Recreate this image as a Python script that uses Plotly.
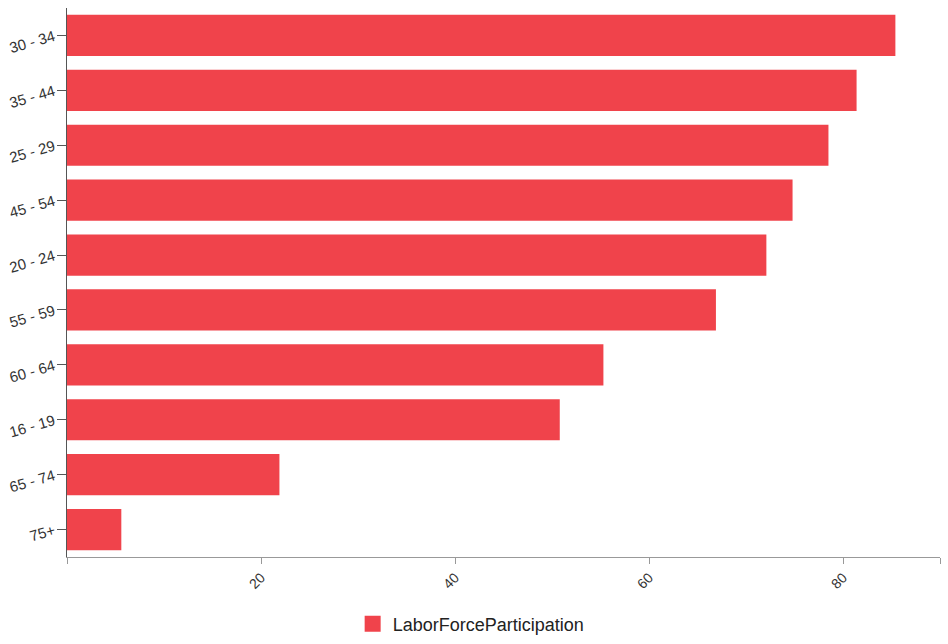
import plotly.graph_objects as go

categories = ["30 - 34", "35 - 44", "25 - 29", "45 - 54", "20 - 24", "55 - 59",
              "60 - 64", "16 - 19", "65 - 74", "75+"]
participation = [85.4, 81.4, 78.5, 74.8, 72.1, 66.9, 55.3, 50.8, 21.9, 5.6]
x_tick_vals = [0, 20, 40, 60, 80, 90]
x_tick_text = ["", "20", "40", "60", "80", ""]
bar_color = "#f0434b"

fig = go.Figure()
fig.add_trace(go.Bar(
    x=participation, y=categories, orientation="h",
    name="LaborForceParticipation",
    marker=dict(color=bar_color, line=dict(width=0)),
    showlegend=False,
))
# legend-only entry with a larger square swatch
fig.add_trace(go.Scatter(
    x=[None], y=[None], mode="markers", name="LaborForceParticipation",
    marker=dict(symbol="square", size=18, color=bar_color),
    showlegend=True,
))

fig.update_layout(
    width=948, height=644,
    margin=dict(l=67, r=8, t=8, b=87),
    plot_bgcolor="white", paper_bgcolor="white",
    bargap=0.25,
    font=dict(family="Liberation Sans, Arial, sans-serif", size=14, color="#333"),
    showlegend=True,
    legend=dict(orientation="h", xref="container", yref="container",
                x=0.497, xanchor="center", y=0.031, yanchor="middle",
                font=dict(size=18, color="#222"), itemsizing="trace"),
    xaxis=dict(range=[0, 90], tickvals=x_tick_vals, ticktext=x_tick_text,
               tickangle=-45, showgrid=False, zeroline=False, automargin=False,
               showline=True, linecolor="#999", linewidth=1,
               ticks="outside", ticklen=6, tickcolor="#999"),
    yaxis=dict(categoryorder="array", categoryarray=categories, autorange="reversed",
               tickangle=-16, showgrid=False, zeroline=False, automargin=False,
               showline=True, linecolor="#555", linewidth=1,
               tickfont=dict(size=15),
               ticks="outside", ticklen=9, tickcolor="#555"),
)

fig.write_html("out.html", config={"displayModeBar": False},
               post_script="document.body.style.margin='0';document.body.style.overflow='hidden';")
